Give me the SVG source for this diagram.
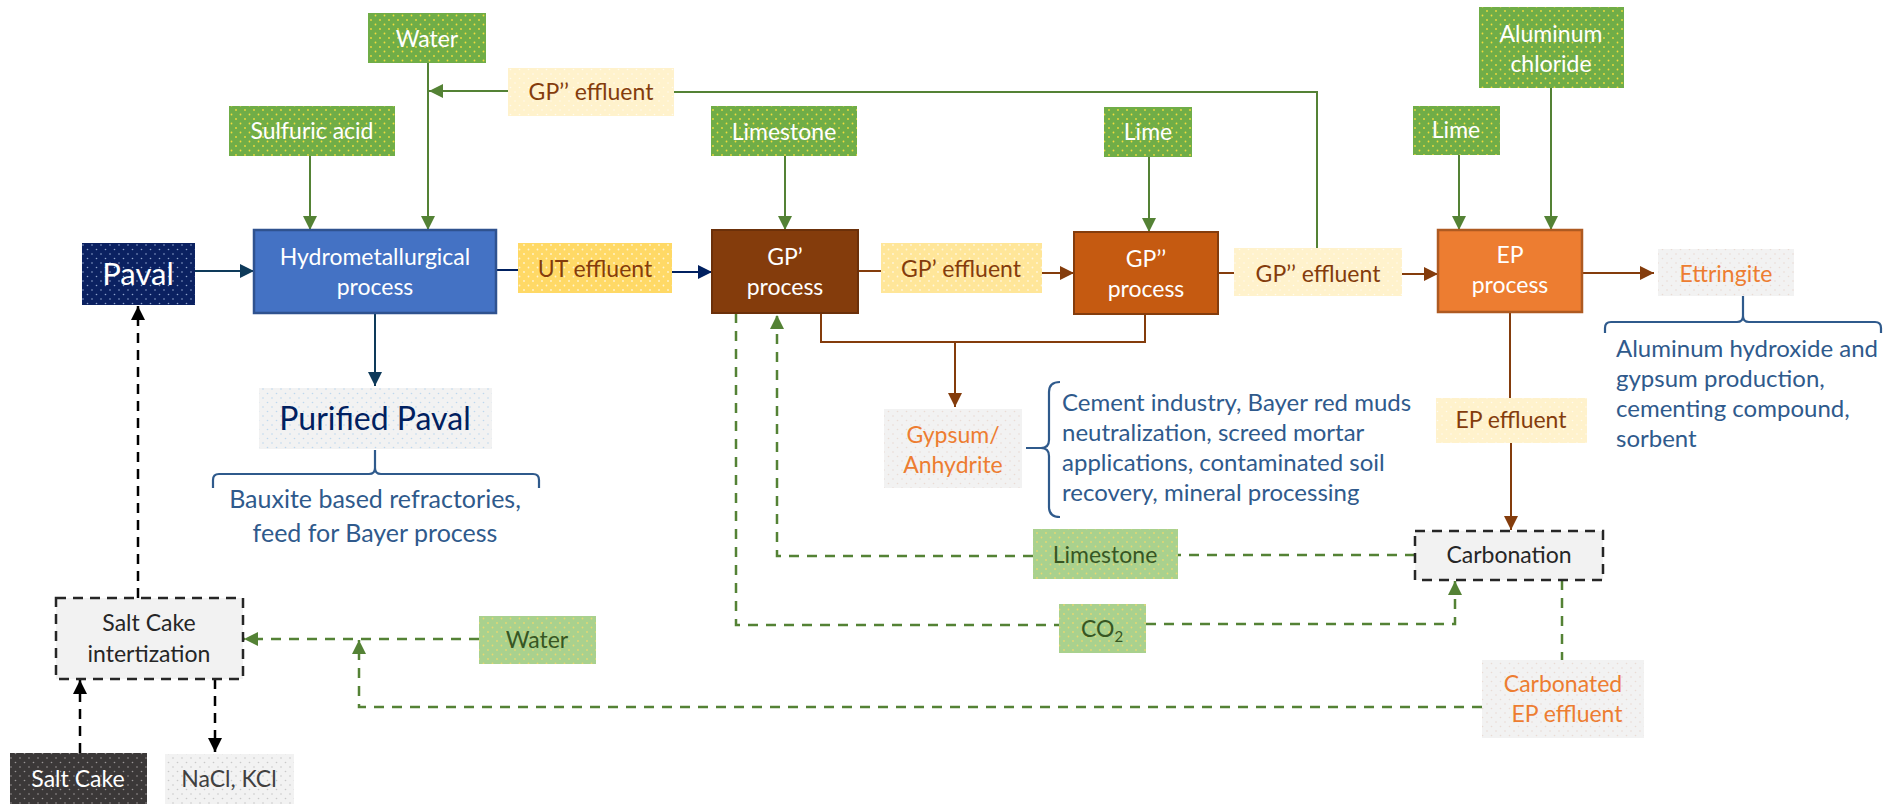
<svg xmlns="http://www.w3.org/2000/svg" width="1896" height="804" viewBox="0 0 1896 804">
<defs>
  <!-- dotted fills -->
  <pattern id="pGreen" width="9" height="9" patternUnits="userSpaceOnUse"><rect width="9" height="9" fill="#70AD47"/><circle cx="2" cy="2" r="0.9" fill="#F2DC3C"/><circle cx="6.5" cy="6.5" r="0.9" fill="#F2DC3C"/></pattern>
  <pattern id="pLightGreen" width="9" height="9" patternUnits="userSpaceOnUse"><rect width="9" height="9" fill="#A9D18E"/><circle cx="2" cy="2" r="0.9" fill="#E8D870"/><circle cx="6.5" cy="6.5" r="0.9" fill="#E8D870"/></pattern>
  <pattern id="pNavy" width="9" height="9" patternUnits="userSpaceOnUse"><rect width="9" height="9" fill="#0B2161"/><circle cx="2" cy="2" r="0.8" fill="#8FA3CC"/><circle cx="6.5" cy="6.5" r="0.8" fill="#8FA3CC"/></pattern>
  <pattern id="pYellow" width="9" height="9" patternUnits="userSpaceOnUse"><rect width="9" height="9" fill="#FFD966"/><circle cx="2" cy="2" r="0.9" fill="#FFF4D0"/><circle cx="6.5" cy="6.5" r="0.9" fill="#FFF4D0"/></pattern>
  <pattern id="pPale" width="9" height="9" patternUnits="userSpaceOnUse"><rect width="9" height="9" fill="#FFE699"/><circle cx="2" cy="2" r="0.9" fill="#FFF6DA"/><circle cx="6.5" cy="6.5" r="0.9" fill="#FFF6DA"/></pattern>
  <pattern id="pCream" width="9" height="9" patternUnits="userSpaceOnUse"><rect width="9" height="9" fill="#FFF2CC"/><circle cx="2" cy="2" r="0.8" fill="#FFFBEF"/><circle cx="6.5" cy="6.5" r="0.8" fill="#FFFBEF"/></pattern>
  <pattern id="pGrey" width="9" height="9" patternUnits="userSpaceOnUse"><rect width="9" height="9" fill="#F2F2F2"/><circle cx="2" cy="2" r="0.8" fill="#EADBD4"/><circle cx="6.5" cy="6.5" r="0.8" fill="#EADBD4"/></pattern>
  <pattern id="pGreyBlue" width="9" height="9" patternUnits="userSpaceOnUse"><rect width="9" height="9" fill="#F2F2F2"/><circle cx="2" cy="2" r="0.8" fill="#BDD7EE"/><circle cx="6.5" cy="6.5" r="0.8" fill="#BDD7EE"/></pattern>
  <pattern id="pGreyDots" width="9" height="9" patternUnits="userSpaceOnUse"><rect width="9" height="9" fill="#F2F2F2"/><circle cx="2" cy="2" r="0.8" fill="#C8C8C8"/><circle cx="6.5" cy="6.5" r="0.8" fill="#C8C8C8"/></pattern>
  <pattern id="pDark" width="9" height="9" patternUnits="userSpaceOnUse"><rect width="9" height="9" fill="#3B3838"/><circle cx="2" cy="2" r="0.8" fill="#9A9696"/><circle cx="6.5" cy="6.5" r="0.8" fill="#9A9696"/></pattern>

  <!-- arrowheads -->
  <marker id="aGreen" markerUnits="userSpaceOnUse" markerWidth="14" markerHeight="14" refX="14" refY="7" orient="auto"><path d="M0,0 L14,7 L0,14 z" fill="#548235"/></marker>
  <marker id="aBrown" markerUnits="userSpaceOnUse" markerWidth="14" markerHeight="14" refX="14" refY="7" orient="auto"><path d="M0,0 L14,7 L0,14 z" fill="#843C0C"/></marker>
  <marker id="aNavy" markerUnits="userSpaceOnUse" markerWidth="14" markerHeight="14" refX="14" refY="7" orient="auto"><path d="M0,0 L14,7 L0,14 z" fill="#002060"/></marker>
  <marker id="aTeal" markerUnits="userSpaceOnUse" markerWidth="14" markerHeight="14" refX="14" refY="7" orient="auto"><path d="M0,0 L14,7 L0,14 z" fill="#0E3A5A"/></marker>
  <marker id="aBlack" markerUnits="userSpaceOnUse" markerWidth="14" markerHeight="14" refX="14" refY="7" orient="auto"><path d="M0,0 L14,7 L0,14 z" fill="#000"/></marker>
</defs>
<style>
  text { font-family: Lato, "Liberation Sans", sans-serif; font-size: 23px; text-anchor: middle; }
  .w { fill: #FFFFFF; }
  .br { fill: #843C0C; }
  .or { fill: #ED7D31; }
  .dg { fill: #375623; }
  .k { fill: #262626; }
  .desc { fill: #2F5A8C; font-size: 24px; text-anchor: start; }
  .descc { fill: #2F5A8C; font-size: 25px; }
  .ln { fill: none; stroke-width: 2; }
  .g { stroke: #548235; }
  .b { stroke: #843C0C; }
  .n { stroke: #002060; }
  .t { stroke: #0E3A5A; }
  .gd { fill: none; stroke: #548235; stroke-width: 2.5; stroke-dasharray: 10 8; }
  .kd { fill: none; stroke: #000; stroke-width: 2.5; stroke-dasharray: 10 7; }
  .brk { fill: none; stroke: #2F5A8C; stroke-width: 2.2; }
  .boxd { fill: #F2F2F2; stroke: #262626; stroke-width: 2.5; stroke-dasharray: 10 7; }
</style>

<rect width="1896" height="804" fill="#FFFFFF"/>

<!-- connectors -->
<g id="connectors">
  <line class="ln t" x1="195" y1="271" x2="254" y2="271" marker-end="url(#aTeal)"/>
  <line class="ln n" x1="496" y1="270" x2="518" y2="270"/>
  <line class="ln n" x1="672" y1="272" x2="712" y2="272" marker-end="url(#aNavy)"/>
  <line class="ln t" x1="375" y1="313" x2="375" y2="386" marker-end="url(#aTeal)"/>
  <line class="ln g" x1="310" y1="156" x2="310" y2="230" marker-end="url(#aGreen)"/>
  <line class="ln g" x1="428" y1="63" x2="428" y2="230" marker-end="url(#aGreen)"/>
  <path class="ln g" d="M1317,248 V92 H674"/>
  <line class="ln g" x1="508" y1="91" x2="429" y2="91" marker-end="url(#aGreen)"/>
  <line class="ln g" x1="785" y1="156" x2="785" y2="230" marker-end="url(#aGreen)"/>
  <line class="ln b" x1="858" y1="271" x2="881" y2="271"/>
  <line class="ln b" x1="1042" y1="273" x2="1074" y2="273" marker-end="url(#aBrown)"/>
  <line class="ln g" x1="1149" y1="157" x2="1149" y2="232" marker-end="url(#aGreen)"/>
  <line class="ln b" x1="1218" y1="273" x2="1234" y2="273"/>
  <line class="ln b" x1="1402" y1="274" x2="1438" y2="274" marker-end="url(#aBrown)"/>
  <line class="ln g" x1="1459" y1="155" x2="1459" y2="230" marker-end="url(#aGreen)"/>
  <line class="ln g" x1="1551" y1="88" x2="1551" y2="230" marker-end="url(#aGreen)"/>
  <line class="ln b" x1="1582" y1="273" x2="1654" y2="273" marker-end="url(#aBrown)"/>
  <path class="ln b" d="M821,313 V342 H1145 V314"/>
  <line class="ln b" x1="955" y1="342" x2="955" y2="407" marker-end="url(#aBrown)"/>
  <line class="ln b" x1="1510" y1="312" x2="1510" y2="398"/>
  <line class="ln b" x1="1511" y1="443" x2="1511" y2="530" marker-end="url(#aBrown)"/>

  <!-- recycle loops -->
  <line class="gd" x1="1415" y1="555" x2="1178" y2="555"/>
  <path class="gd" d="M1033,556 H777 V315" marker-end="url(#aGreen)"/>
  <path class="gd" d="M736,313 V625 H1059"/>
  <path class="gd" d="M1146,624 H1455 V581" marker-end="url(#aGreen)"/>
  <line class="gd" x1="1562" y1="580" x2="1562" y2="660"/>
  <path class="gd" d="M1482,707 H359 V640" marker-end="url(#aGreen)"/>
  <line class="gd" x1="479" y1="639" x2="244" y2="639" marker-end="url(#aGreen)"/>

  <!-- salt cake loop -->
  <line class="kd" x1="80" y1="753" x2="80" y2="680" marker-end="url(#aBlack)"/>
  <line class="kd" x1="215" y1="679" x2="215" y2="752" marker-end="url(#aBlack)"/>
  <line class="kd" x1="138" y1="598" x2="138" y2="306" marker-end="url(#aBlack)"/>
</g>

<!-- main line -->
<g id="paval"><rect x="82" y="243" width="113" height="62" fill="url(#pNavy)"/><text class="w" x="138" y="285" style="font-size:31px">Paval</text></g>
<g id="hydro"><rect x="254" y="230" width="242" height="83" fill="#4472C4" stroke="#2F528F" stroke-width="2.5"/><text class="w" x="375" y="265">Hydrometallurgical</text><text class="w" x="375" y="295">process</text></g>
<g id="water-top"><rect x="368" y="13" width="118" height="50" fill="url(#pGreen)"/><text class="w" x="427" y="47">Water</text></g>
<g id="sulfuric"><rect x="229" y="106" width="166" height="50" fill="url(#pGreen)"/><text class="w" x="312" y="139">Sulfuric acid</text></g>
<g id="gp2-eff-recycle"><rect x="508" y="68" width="166" height="48" fill="url(#pCream)"/><text class="br" x="591" y="100">GP’’ effluent</text></g>
<g id="ut-eff"><rect x="518" y="243" width="154" height="50" fill="url(#pYellow)"/><text class="br" x="595" y="277">UT effluent</text></g>
<g id="purified"><rect x="259" y="388" width="233" height="61" fill="url(#pGreyBlue)"/><text x="375" y="430" style="font-size:32px;fill:#002060">Purified Paval</text></g>
<g id="purified-uses">
  <path class="brk" d="M213,488 V480 Q213,474 219,474 H369 Q375,474 375,468 V450 M375,468 Q375,474 381,474 H533 Q539,474 539,480 V488"/>
  <text class="descc" x="375" y="508">Bauxite based refractories,</text>
  <text class="descc" x="375" y="542">feed for Bayer process</text>
</g>
<g id="limestone-top"><rect x="711" y="106" width="146" height="50" fill="url(#pGreen)"/><text class="w" x="784" y="140">Limestone</text></g>
<g id="gp1"><rect x="712" y="230" width="146" height="83" fill="#843C0C" stroke="#6B300A" stroke-width="2"/><text class="w" x="785" y="265">GP’</text><text class="w" x="785" y="295">process</text></g>
<g id="gp1-eff"><rect x="881" y="243" width="161" height="50" fill="url(#pPale)"/><text class="br" x="961" y="277">GP’ effluent</text></g>
<g id="lime1"><rect x="1104" y="107" width="88" height="50" fill="url(#pGreen)"/><text class="w" x="1148" y="140">Lime</text></g>
<g id="gp2"><rect x="1074" y="232" width="144" height="82" fill="#C55A11" stroke="#843C0C" stroke-width="2"/><text class="w" x="1146" y="267">GP’’</text><text class="w" x="1146" y="297">process</text></g>
<g id="gp2-eff"><rect x="1234" y="248" width="168" height="48" fill="url(#pCream)"/><text class="br" x="1318" y="282">GP’’ effluent</text></g>
<g id="lime2"><rect x="1413" y="106" width="87" height="49" fill="url(#pGreen)"/><text class="w" x="1456" y="138">Lime</text></g>
<g id="alcl"><rect x="1479" y="7" width="145" height="81" fill="url(#pGreen)"/><text class="w" x="1551" y="42">Aluminum</text><text class="w" x="1551" y="72">chloride</text></g>
<g id="ep"><rect x="1438" y="230" width="144" height="82" fill="#ED7D31" stroke="#AE5A21" stroke-width="2.5"/><text class="w" x="1510" y="263">EP</text><text class="w" x="1510" y="293">process</text></g>
<g id="ettringite"><rect x="1658" y="249" width="136" height="47" fill="url(#pGrey)"/><text class="or" x="1726" y="282">Ettringite</text></g>
<g id="ettringite-uses">
  <path class="brk" d="M1605,333 V328 Q1605,322 1611,322 H1737 Q1743,322 1743,316 V296 M1743,316 Q1743,322 1749,322 H1875 Q1881,322 1881,328 V333"/>
  <text class="desc" x="1616" y="357">Aluminum hydroxide and</text>
  <text class="desc" x="1616" y="387">gypsum production,</text>
  <text class="desc" x="1616" y="417">cementing compound,</text>
  <text class="desc" x="1616" y="447">sorbent</text>
</g>
<g id="ep-eff"><rect x="1436" y="398" width="151" height="45" fill="url(#pCream)"/><text class="br" x="1511" y="428">EP effluent</text></g>
<g id="gypsum"><rect x="884" y="409" width="138" height="79" fill="url(#pGrey)"/><text class="or" x="953" y="443">Gypsum/</text><text class="or" x="953" y="473">Anhydrite</text></g>
<g id="gypsum-uses">
  <path class="brk" d="M1060,382 Q1049,382 1049,392 V440 Q1049,448 1041,448 H1026 M1041,448 Q1049,448 1049,456 V507 Q1049,517 1060,517"/>
  <text class="desc" x="1062" y="411">Cement industry, Bayer red muds</text>
  <text class="desc" x="1062" y="441">neutralization, screed mortar</text>
  <text class="desc" x="1062" y="471">applications, contaminated soil</text>
  <text class="desc" x="1062" y="501">recovery, mineral processing</text>
</g>

<!-- carbonation loop -->
<g id="limestone-bot"><rect x="1033" y="529" width="145" height="50" fill="url(#pLightGreen)"/><text class="dg" x="1105" y="563">Limestone</text></g>
<g id="co2"><rect x="1059" y="604" width="87" height="49" fill="url(#pLightGreen)"/><text class="dg" x="1102" y="637">CO<tspan style="font-size:15px" dy="5">2</tspan></text></g>
<g id="carbonation"><rect class="boxd" x="1415" y="531" width="188" height="49"/><text class="k" x="1509" y="563">Carbonation</text></g>
<g id="carb-eff"><rect x="1482" y="660" width="162" height="78" fill="url(#pGrey)"/><text class="or" x="1563" y="692">Carbonated</text><text class="or" x="1567" y="722">EP effluent</text></g>
<g id="water-bot"><rect x="479" y="616" width="117" height="48" fill="url(#pLightGreen)"/><text class="dg" x="537" y="648">Water</text></g>

<!-- salt cake -->
<g id="salt-int"><rect class="boxd" x="56" y="598" width="187" height="81"/><text class="k" x="149" y="631">Salt Cake</text><text class="k" x="149" y="662">intertization</text></g>
<g id="salt-cake"><rect x="10" y="753" width="137" height="51" fill="url(#pDark)"/><text class="w" x="78" y="787">Salt Cake</text></g>
<g id="nacl"><rect x="165" y="754" width="129" height="50" fill="url(#pGreyDots)"/><text x="229" y="787" style="fill:#404040">NaCl, KCl</text></g>
</svg>
